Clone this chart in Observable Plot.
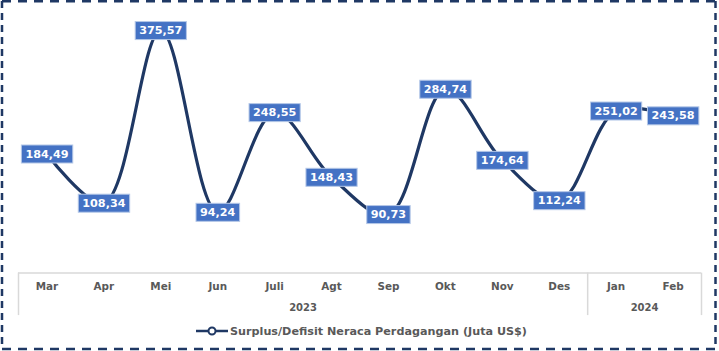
<!DOCTYPE html>
<html>
<head>
<meta charset="utf-8">
<script src="https://cdn.jsdelivr.net/npm/d3@7"></script>
<script src="https://cdn.jsdelivr.net/npm/@observablehq/plot@0.6"></script>
<style>
  html, body { margin: 0; padding: 0; background: #fff; }
  #chart svg { display: block; }
</style>
</head>
<body>
<div id="chart"></div>
<script>
// ---- data ----
const months = ["Mar", "Apr", "Mei", "Jun", "Juli", "Agt", "Sep", "Okt", "Nov", "Des", "Jan", "Feb"];
const monthYears = ["2023", "2023", "2023", "2023", "2023", "2023", "2023", "2023", "2023", "2023", "2024", "2024"];
const values = [184.49, 108.34, 375.57, 94.24, 248.55, 148.43, 90.73, 284.74, 174.64, 112.24, 251.02, 243.58];
const seriesName = "Surplus/Defisit Neraca Perdagangan (Juta US$)";

const data = months.map((m, i) => ({i, month: m, year: monthYears[i], v: values[i]}));
const yearGroups = Array.from(d3.group(data, d => d.year), ([year, rows]) => ({
  year,
  start: d3.min(rows, d => d.i),
  end: d3.max(rows, d => d.i)
}));
yearGroups.forEach(g => g.center = (g.start + g.end) / 2);
const separators = [-0.5, ...yearGroups.map(g => g.end + 0.5)];

const fmt = v => v.toFixed(2).replace(".", ",");
const FONT = "DejaVu Sans";
const NAVY = "#1f3864";
const GRAY_TXT = "#595959";
const GRID = "#d9d9d9";

const plot = Plot.plot({
  width: 719,
  height: 351,
  marginLeft: 18,
  marginRight: 18,
  marginTop: 14.2,
  marginBottom: 78.4,
  style: {fontFamily: FONT, background: "#fff", overflow: "visible"},
  x: {type: "linear", domain: [-0.5, months.length - 0.5], axis: null},
  y: {domain: [0, 400], axis: null},
  marks: [
    Plot.ruleY([0], {stroke: GRID, strokeWidth: 1.5}),
    Plot.ruleX(separators, {y1: 0, y2: 0, insetBottom: -42.5, stroke: GRID, strokeWidth: 1.5}),
    Plot.axisX({
      ticks: data.map(d => d.i),
      tickFormat: i => months[i],
      tickSize: 0,
      tickPadding: 10,
      fontSize: 10.4,
      fontWeight: "bold",
      fill: GRAY_TXT
    }),
    Plot.text(yearGroups, {
      x: "center", y: 0, text: "year", dy: 34.5,
      fontSize: 10, fontWeight: "bold", fill: GRAY_TXT
    }),
    Plot.line(data, {
      x: "i", y: "v", curve: "catmull-rom",
      stroke: NAVY, strokeWidth: 3.2, strokeLinejoin: "round", strokeLinecap: "round"
    }),
    Plot.text(data, {
      x: "i", y: "v", text: d => fmt(d.v),
      fill: "#fff", fontSize: 11.2, fontWeight: "bold",
      className: "vlabel"
    })
  ]
});

document.getElementById("chart").appendChild(plot);

// label boxes (placed behind each label, sharing its transform)
const svg = d3.select(plot);
svg.selectAll(".vlabel text").each(function () {
  const bb = this.getBBox();
  const padX = 4;
  const cy = bb.y + bb.height / 2;
  const r = d3.select(this.parentNode).insert("rect", () => this)
    .attr("x", bb.x - padX)
    .attr("y", cy - 9)
    .attr("width", bb.width + 2 * padX)
    .attr("height", 18)
    .attr("fill", "#4472c4")
    .attr("stroke", "#b4c7e7")
    .attr("stroke-width", 1);
  const t = this.getAttribute("transform");
  if (t) r.attr("transform", t);
});

// legend
const lg = svg.append("g");
lg.append("line").attr("x1", 196).attr("x2", 228).attr("y1", 331).attr("y2", 331)
  .attr("stroke", NAVY).attr("stroke-width", 2.5);
lg.append("circle").attr("cx", 212).attr("cy", 331).attr("r", 3.5)
  .attr("fill", "#fff").attr("stroke", NAVY).attr("stroke-width", 2);
lg.append("text").attr("x", 230).attr("y", 331).attr("dy", "0.35em")
  .attr("text-anchor", "start")
  .attr("font-family", FONT).attr("font-size", 11.2).attr("font-weight", "bold")
  .attr("fill", GRAY_TXT).text(seriesName);

// dashed outer border
const bd = svg.append("g").attr("stroke", NAVY).attr("stroke-width", 2.5).attr("fill", "none");
bd.append("line").attr("x1", 2).attr("x2", 716).attr("y1", 1.3).attr("y2", 1.3).attr("stroke-dasharray", "9,7");
bd.append("line").attr("x1", 2).attr("x2", 716).attr("y1", 349).attr("y2", 349).attr("stroke-dasharray", "9,7");
bd.append("line").attr("x1", 2).attr("x2", 2).attr("y1", 1).attr("y2", 349).attr("stroke-dasharray", "7,5");
bd.append("line").attr("x1", 715.5).attr("x2", 715.5).attr("y1", 1).attr("y2", 349).attr("stroke-dasharray", "7,5");
</script>
</body>
</html>
